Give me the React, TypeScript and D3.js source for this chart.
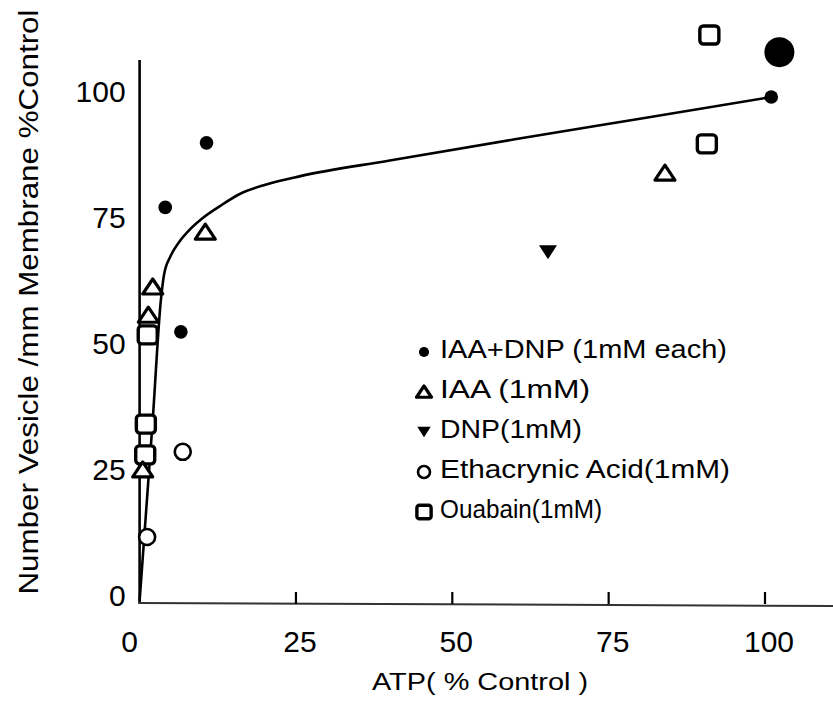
import React from 'react';
import * as d3 from 'd3';

const W = 833;
const H = 719;

// axis ticks
const xTicks = [0, 25, 50, 75, 100];
const yTicks = [0, 25, 50, 75, 100];
const xMinorTicks = [25, 50, 75, 100];

// IAA + DNP (filled circles)
const iaaDnpX = [10.7, 4.1, 6.6, 101];
const iaaDnpY = [90.9, 78.1, 53.4, 100];
// the big dark spot in the top right corner
const blotX = [102.3];
const blotY = [108.9];

// IAA (open triangles)
const iaaX = [10.5, 2.1, 1.4, 84.0, 0.5];
const iaaY = [73.2, 62.3, 56.7, 84.9, 26];

// DNP (filled down triangle)
const dnpX = [65.3];
const dnpY = [69.2];

// Ethacrynic acid (open circles)
const ethX = [6.9, 1.2];
const ethY = [29.6, 12.7];

// Ouabain (open squares)
const ouaX = [91.1, 90.7, 1.3, 1.0, 0.9];
const ouaY = [112.3, 90.7, 52.8, 35.1, 29.0];

// hand drawn fit curve
const fitX = [0, 2.1, 3.4, 3.9, 4.9, 6.3, 8.1, 10.1, 12.9, 16.1, 20.1, 25.7, 40, 60, 80, 101];
const fitY = [0, 35.9, 59.7, 64.7, 68.3, 71.2, 73.8, 76.0, 78.4, 80.8, 82.6, 84.3, 87.4, 91.6, 95.7, 100];

const legendLabels = [
  'IAA+DNP (1mM each)',
  'IAA (1mM)',
  'DNP(1mM)',
  'Ethacrynic Acid(1mM)',
  'Ouabain(1mM)',
];
const legendShapes = ['dot', 'tri', 'down', 'ring', 'square'];
const legendWidths = [287, 150, 142, 290, 162];

const FONT = "'Liberation Sans Narrow', 'Liberation Sans', Arial, sans-serif";

const x = d3.scaleLinear().domain([0, 100]).range([139.6, 765]);
const y = d3.scaleLinear().domain([0, 100]).range([601, 97]);

const Marker = ({ shape, cx, cy, k = 1 }: { shape: string; cx: number; cy: number; k?: number }) => {
  const t = `translate(${cx},${cy}) scale(${k})`;
  if (shape === 'dot') return <circle cx={cx} cy={cy} r={6.8 * k} fill="#000" />;
  if (shape === 'ring')
    return <circle cx={cx} cy={cy} r={8 * k} fill="#fff" stroke="#000" strokeWidth={2.6} />;
  if (shape === 'tri')
    return (
      <path transform={t} d="M0,-8 L10,7 L-10,7 Z" fill="#fff" stroke="#000"
        strokeWidth={3.2 / k} strokeLinejoin="round" />
    );
  if (shape === 'down')
    return <path transform={t} d="M-9,-7 L9,-7 L0,7 Z" fill="#000" />;
  return (
    <rect transform={t} x={-9.5} y={-9} width={19} height={18} rx={3.5} fill="#fff"
      stroke="#000" strokeWidth={3.4 / k} />
  );
};

const pts = (xs: number[], ys: number[]) => xs.map((v, i) => [v, ys[i]] as [number, number]);

export default function App() {
  const line = d3
    .line<[number, number]>()
    .x((d) => x(d[0]))
    .y((d) => y(d[1]))
    .curve(d3.curveMonotoneX);

  const axisY = y(0) + 2;

  return (
    <svg width={W} height={H} style={{ position: 'absolute', left: 0, top: 0, background: '#fff' }}
      fontFamily={FONT}>
      <rect width={W} height={H} fill="#fff" />

      {/* axes */}
      <line x1={x(0)} x2={x(0)} y1={60} y2={axisY + 1} stroke="#000" strokeWidth={2.6} />
      <line x1={x(0) - 1} x2={W} y1={axisY} y2={axisY + 3} stroke="#333" strokeWidth={2} />
      {xMinorTicks.map((v) => (
        <line key={v} x1={x(v)} x2={x(v)} y1={axisY - 11} y2={axisY + 1} stroke="#000" strokeWidth={2.2} />
      ))}

      {yTicks.map((v) => (
        <text key={v} x={x(0) - 14} y={y(v) - 6} textAnchor="end" dominantBaseline="central"
          fontSize={30}>
          {v}
        </text>
      ))}
      {xTicks.map((v) => (
        <text key={v} x={x(v) + (v === 0 ? -10 : 4)} y={641} textAnchor="middle"
          dominantBaseline="central" fontSize={30}>
          {v}
        </text>
      ))}

      <text x={372} y={690} fontSize={23} textLength={216} lengthAdjust="spacingAndGlyphs">
        ATP( % Control )
      </text>
      <text transform="translate(29,302) rotate(-90)" textAnchor="middle" dominantBaseline="central"
        fontSize={27} textLength={585} lengthAdjust="spacingAndGlyphs">
        Number Vesicle /mm Membrane %Control
      </text>

      {/* fit curve */}
      <path d={line(pts(fitX, fitY)) || ''} fill="none" stroke="#000" strokeWidth={2.6} />

      {/* points */}
      {pts(ouaX, ouaY).map((d, i) => (
        <Marker key={'o' + i} shape="square" cx={x(d[0])} cy={y(d[1])} />
      ))}
      {pts(ethX, ethY).map((d, i) => (
        <Marker key={'e' + i} shape="ring" cx={x(d[0])} cy={y(d[1])} />
      ))}
      {pts(iaaX, iaaY).map((d, i) => (
        <Marker key={'t' + i} shape="tri" cx={x(d[0])} cy={y(d[1])} />
      ))}
      {pts(dnpX, dnpY).map((d, i) => (
        <Marker key={'d' + i} shape="down" cx={x(d[0])} cy={y(d[1])} />
      ))}
      {pts(iaaDnpX, iaaDnpY).map((d, i) => (
        <Marker key={'c' + i} shape="dot" cx={x(d[0])} cy={y(d[1])} />
      ))}
      {pts(blotX, blotY).map((d, i) => (
        <circle key={'b' + i} cx={x(d[0])} cy={y(d[1])} r={15} fill="#000" />
      ))}

      {/* legend */}
      {legendLabels.map((lab, i) => {
        const ly = 349 + i * 40;
        return (
          <g key={lab}>
            <Marker shape={legendShapes[i]} cx={424} cy={ly + 3} k={0.75} />
            <text x={440} y={ly} dominantBaseline="central" fontSize={26}
              textLength={legendWidths[i]} lengthAdjust="spacingAndGlyphs">
              {lab}
            </text>
          </g>
        );
      })}
    </svg>
  );
}
